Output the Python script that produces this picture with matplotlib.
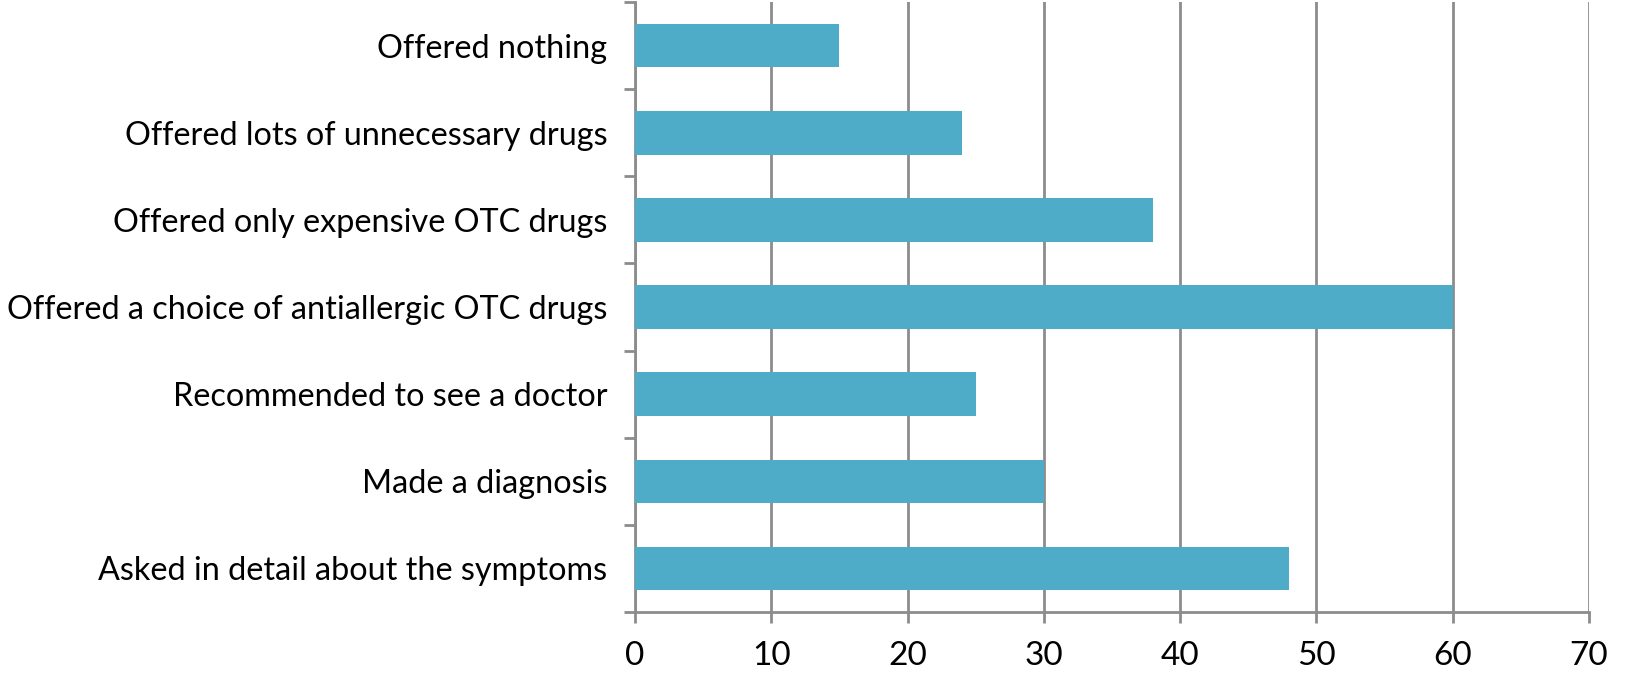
import matplotlib
matplotlib.use("Agg")
import matplotlib.pyplot as plt

# survey answers, bottom to top as drawn
categories = [
    "Asked in detail about the symptoms",
    "Made a diagnosis",
    "Recommended to see a doctor",
    "Offered a choice of antiallergic OTC drugs",
    "Offered only expensive OTC drugs",
    "Offered lots of unnecessary drugs",
    "Offered nothing",
]
values = [48, 30, 25, 60, 38, 24, 15]
x_ticks = [0, 10, 20, 30, 40, 50, 60, 70]

bar_color = "#4FACC8"
grey = "#8C8C8C"

plt.rcParams["font.family"] = ["Lato", "DejaVu Sans"]

fig = plt.figure(figsize=(16.3, 7), dpi=100)
ax = fig.add_axes([635 / 1630, 1 - 612 / 700, (1589 - 635) / 1630, 610 / 700])

pos = list(range(len(categories)))
ax.barh(pos, values, height=0.5, color=bar_color, zorder=3)

ax.set_xlim(0, 70)
ax.set_ylim(-0.5, len(categories) - 0.5)
ax.set_xticks(x_ticks)
ax.set_xticklabels([str(t) for t in x_ticks])
ax.set_yticks(pos)
ax.set_yticklabels(categories)
# category separators as minor ticks on the y axis
ax.set_yticks([p - 0.5 for p in pos] + [len(categories) - 0.5], minor=True)

ax.grid(axis="x", color=grey, linewidth=2, zorder=0)
for s in ["top", "right"]:
    ax.spines[s].set_visible(False)
for s in ["left", "bottom"]:
    ax.spines[s].set_color(grey)
    ax.spines[s].set_linewidth(2)

ax.tick_params(axis="x", colors=grey, labelcolor="black", labelsize=24,
               length=8, width=2, pad=13)
ax.tick_params(axis="y", which="major", length=0, labelsize=23.3, pad=20,
               labelcolor="black")
ax.tick_params(axis="y", which="minor", colors=grey, length=8, width=2)

fig.savefig("out.png", dpi=100, facecolor="white")
